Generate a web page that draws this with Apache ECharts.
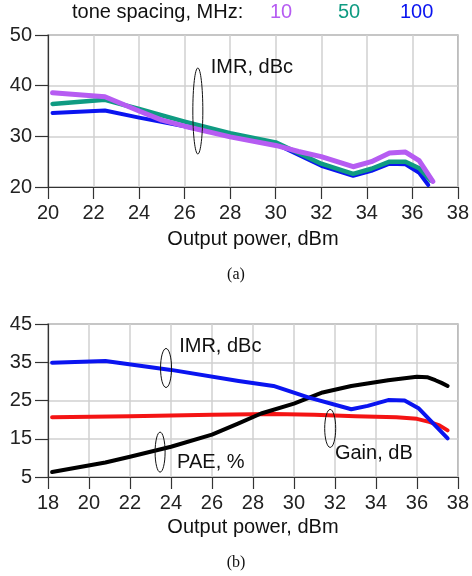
<!DOCTYPE html>
<html>
<head>
<meta charset="utf-8">
<script src="https://cdn.jsdelivr.net/npm/echarts@6/dist/echarts.min.js"></script>
<style>
  html, body { margin: 0; padding: 0; background: #fff; }
  #chart { width: 472px; height: 576px; }
</style>
</head>
<body>
<div id="chart"></div>
<script>
// (a) IMR versus output power for three tone spacings, [Pout dBm, IMR dBc]
const spacingNames = ['10', '50', '100'];
const imr10MHz = [[20.2, 38.6], [22.5, 37.8], [24, 35.0], [25, 33.2], [26, 32.0], [28, 29.9], [30, 28.2], [31, 27.0], [32, 26.0], [33.4, 24.0], [34.2, 25.0], [35, 26.7], [35.7, 26.9], [36.3, 25.2], [36.9, 21.1]];
const imr50MHz = [[20.2, 36.4], [22.5, 37.2], [24, 35.4], [26, 32.9], [28, 30.6], [30, 28.8], [32, 24.6], [33.4, 22.6], [34.2, 23.6], [35, 25.0], [35.7, 25.0], [36.3, 23.7], [36.8, 21.3]];
const imr100MHz = [[20.2, 34.6], [22.5, 35.1], [24, 33.7], [26, 32.0], [28, 30.0], [30, 28.5], [32, 24.2], [33.4, 22.2], [34.2, 23.2], [35, 24.6], [35.7, 24.5], [36.3, 22.8], [36.7, 20.4]];

// (b) IMR, gain and PAE versus output power
const imrB = [[18.2, 34.9], [20.8, 35.3], [24, 33.0], [27.3, 30.1], [29, 28.8], [30.7, 25.8], [32.8, 22.7], [33.6, 23.6], [34.6, 25.1], [35.4, 25.0], [36.1, 22.9], [37.5, 15.1]];
const gainB = [[18.2, 20.6], [22, 20.9], [26, 21.3], [29, 21.5], [31, 21.3], [33, 20.9], [35, 20.6], [36, 20.2], [36.6, 19.4], [37.1, 18.5], [37.5, 17.2]];
const paeB = [[18.2, 6.3], [20.8, 8.8], [22, 10.3], [24, 12.9], [26, 16.1], [27.3, 19.0], [28.4, 21.6], [30, 24.2], [31.4, 27.1], [32.8, 28.8], [34.6, 30.3], [36, 31.2], [36.5, 31.1], [36.9, 30.3], [37.2, 29.6], [37.5, 28.8]];

// axis ranges
const xTopRange = [20, 38], yTopRange = [20, 50], yTopStep = 10;
const xBotRange = [18, 38], yBotRange = [5, 45], yBotStep = 10;

// annotation labels and ellipse brackets, in data coordinates [x, y] on grid index
const notes = [
  { grid: 0, text: 'IMR, dBc', at: [27.15, 43.5] },
  { grid: 1, text: 'IMR, dBc', at: [24.4, 39.0] },
  { grid: 1, text: 'PAE, %', at: [24.3, 8.9] },
  { grid: 1, text: 'Gain, dB', at: [32.0, 11.2] }
];
const brackets = [
  { grid: 0, at: [26.58, 35.0], rx: 5, ry: 43 },
  { grid: 1, at: [23.76, 33.5], rx: 5.5, ry: 19.5 },
  { grid: 1, at: [23.47, 11.5], rx: 5, ry: 20 },
  { grid: 1, at: [31.77, 17.7], rx: 5.5, ry: 19 }
];

const colors = { c10: '#b65cf2', c50: '#0f9b82', c100: '#0a14f0', red: '#f41414', black: '#000000' };
const FONT = "'Liberation Sans', Arial, sans-serif";
const FS = 20;

function xAxisCfg(gridIndex, range, gap) {
  return {
    type: 'value', gridIndex, min: range[0], max: range[1], interval: 2,
    name: 'Output power, dBm', nameLocation: 'middle', nameGap: gap,
    nameTextStyle: { fontFamily: FONT, fontSize: FS, color: '#111' },
    axisLine: { show: true, lineStyle: { color: '#333', width: 1.2 } },
    axisTick: { show: true, inside: false, length: 12, lineStyle: { color: '#333', width: 1.2 } },
    axisLabel: { margin: 16, fontFamily: FONT, fontSize: FS, color: '#222' },
    splitLine: { show: true, lineStyle: { color: '#d0d0d0', width: 1.5 } }
  };
}
function yAxisCfg(gridIndex, range, step) {
  return {
    type: 'value', gridIndex, min: range[0], max: range[1], interval: step,
    axisLine: { show: true, lineStyle: { color: '#333', width: 1.2 } },
    axisTick: { show: true, inside: false, length: 13, lineStyle: { color: '#333', width: 1.2 } },
    axisLabel: { margin: 16, fontFamily: FONT, fontSize: FS, color: '#222' },
    splitLine: { show: true, lineStyle: { color: '#d0d0d0', width: 1.5 } }
  };
}
function line(name, data, color, width, xi, yi) {
  return {
    name, type: 'line', data, xAxisIndex: xi, yAxisIndex: yi,
    showSymbol: false, symbol: 'none', smooth: false,
    lineStyle: { color, width, join: 'round', cap: 'round' },
    itemStyle: { color }, animation: false
  };
}

const chart = echarts.init(document.getElementById('chart'), null, { renderer: 'canvas' });

const option = {
  backgroundColor: '#fff',
  animation: false,
  grid: [
    { left: 48, top: 35, width: 412, height: 152, show: true, borderColor: '#555', borderWidth: 1.2, backgroundColor: 'transparent' },
    { left: 48, top: 324, width: 412, height: 153, show: true, borderColor: '#555', borderWidth: 1.2, backgroundColor: 'transparent' }
  ],
  xAxis: [xAxisCfg(0, xTopRange, 42), xAxisCfg(1, xBotRange, 40)],
  yAxis: [yAxisCfg(0, yTopRange, yTopStep), yAxisCfg(1, yBotRange, yBotStep)],
  series: [
    line(spacingNames[2], imr100MHz, colors.c100, 4, 0, 0),
    line(spacingNames[1], imr50MHz, colors.c50, 4.5, 0, 0),
    line(spacingNames[0], imr10MHz, colors.c10, 5, 0, 0),
    line('Gain', gainB, colors.red, 4, 1, 1),
    line('PAE', paeB, colors.black, 4, 1, 1),
    line('IMR', imrB, colors.c100, 4, 1, 1)
  ]
};
chart.setOption(option);

// header line naming the tone spacings, coloured like their curves, plus panel captions
const font = FS + 'px ' + FONT;
const header = [
  { type: 'text', left: 72, top: 2, style: { text: 'tone spacing, MHz:', font, fill: '#111' } },
  { type: 'text', left: 270, top: 2, style: { text: spacingNames[0], font, fill: colors.c10 } },
  { type: 'text', left: 338, top: 2, style: { text: spacingNames[1], font, fill: colors.c50 } },
  { type: 'text', left: 400, top: 2, style: { text: spacingNames[2], font, fill: colors.c100 } },
  { type: 'text', left: 'center', top: 267, style: { text: '(a)', font: '16px "Liberation Serif", "Times New Roman", serif', fill: '#111' } },
  { type: 'text', left: 'center', top: 555, style: { text: '(b)', font: '16px "Liberation Serif", "Times New Roman", serif', fill: '#111' } }
];

const noteEls = notes.map(n => {
  const p = chart.convertToPixel({ gridIndex: n.grid }, n.at);
  return { type: 'text', x: p[0], y: p[1], style: { text: n.text, font, fill: '#111', verticalAlign: 'middle', align: 'left' }, z: 10 };
});
const bracketEls = brackets.map(b => {
  const p = chart.convertToPixel({ gridIndex: b.grid }, b.at);
  return { type: 'ellipse', shape: { cx: p[0], cy: p[1], rx: b.rx, ry: b.ry }, style: { fill: 'none', stroke: '#111', lineWidth: 1 }, z: 10 };
});

chart.setOption({ graphic: header.concat(noteEls, bracketEls) });
</script>
</body>
</html>
